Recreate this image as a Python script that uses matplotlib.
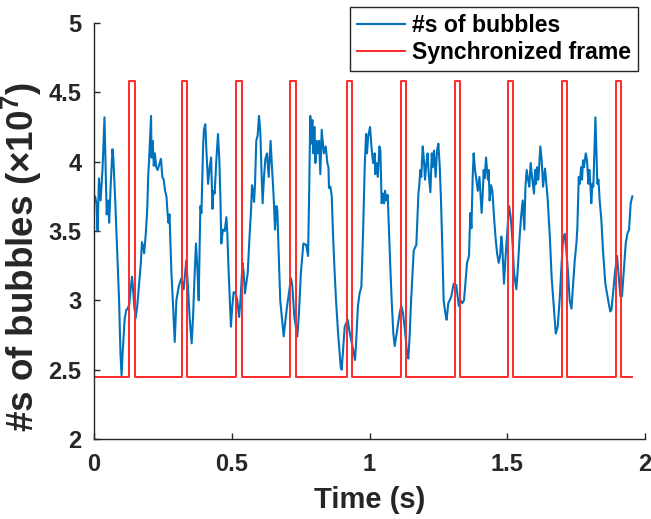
import matplotlib
matplotlib.use("Agg")
import matplotlib.pyplot as plt
import numpy as np

# ---------------- data ----------------
seg_a_t = [0.000, 0.004, 0.009, 0.013, 0.018, 0.024, 0.031, 0.038, 0.046, 0.051,
           0.055, 0.061, 0.067, 0.070, 0.077, 0.084, 0.091, 0.096, 0.100, 0.104,
           0.111, 0.117, 0.122, 0.128, 0.134, 0.138, 0.141, 0.146, 0.151, 0.157,
           0.163, 0.170, 0.174, 0.178, 0.182, 0.188, 0.193, 0.197, 0.200, 0.207,
           0.209, 0.213, 0.217, 0.221, 0.226, 0.231, 0.243, 0.248, 0.253, 0.258,
           0.263, 0.267, 0.270, 0.274]
seg_a_v = [3.70, 3.75, 3.70, 3.50, 3.88, 3.72, 3.95, 4.32, 3.62, 3.72,
           3.56, 3.85, 4.09, 4.03, 3.72, 3.36, 3.00, 2.62, 2.46, 2.62,
           2.86, 2.93, 2.94, 2.97, 3.10, 3.17, 3.10, 2.96, 2.87, 2.96,
           3.10, 3.27, 3.42, 3.39, 3.34, 3.48, 3.65, 3.91, 4.01, 4.33,
           4.03, 4.15, 3.97, 4.06, 3.96, 3.94, 4.02, 3.89, 3.87, 3.79,
           3.75, 3.63, 3.56, 3.62]

seg_b_t = [0.281, 0.287, 0.293, 0.299, 0.3075, 0.317, 0.3255, 0.335, 0.341, 0.347,
           0.3545, 0.3595, 0.3655, 0.370, 0.375, 0.380, 0.384, 0.386, 0.390, 0.396,
           0.399, 0.404, 0.408, 0.414, 0.420, 0.425, 0.430, 0.433, 0.438, 0.444,
           0.450, 0.455, 0.459, 0.462, 0.468, 0.4745, 0.4805, 0.484, 0.488, 0.493,
           0.497, 0.502, 0.507, 0.514, 0.520, 0.5265, 0.531, 0.539, 0.543, 0.548]
seg_b_v = [3.20, 2.96, 2.70, 3.00, 3.10, 3.16, 3.08, 3.29, 3.10, 2.88,
           2.69, 2.88, 3.20, 3.41, 3.24, 3.00, 3.44, 3.68, 3.63, 4.11,
           4.23, 4.27, 4.08, 3.84, 3.96, 4.03, 3.66, 3.79, 3.77, 4.01,
           4.20, 4.01, 3.72, 3.41, 3.51, 3.50, 3.60, 3.48, 3.24, 3.00,
           2.81, 2.96, 3.06, 3.05, 3.00, 2.88, 2.98, 3.27, 3.20, 3.05]

seg_c_t = [0.558, 0.564, 0.570, 0.5735, 0.577, 0.581, 0.5845, 0.589, 0.594, 0.599,
           0.604, 0.6075, 0.612, 0.617, 0.622, 0.628, 0.634, 0.641, 0.646, 0.652,
           0.657, 0.662, 0.6655, 0.670, 0.676, 0.6885, 0.695, 0.701, 0.715, 0.720,
           0.727, 0.738, 0.744, 0.751, 0.760, 0.770, 0.777, 0.7805, 0.785, 0.789,
           0.7925, 0.796, 0.800, 0.8035, 0.808, 0.812, 0.817, 0.8215, 0.8265, 0.834]
seg_c_v = [3.20, 3.44, 3.65, 3.83, 3.79, 3.71, 3.84, 4.15, 4.19, 4.33,
           4.20, 3.96, 3.70, 3.89, 4.02, 4.06, 3.89, 4.15, 3.96, 3.75,
           3.51, 3.68, 3.65, 3.36, 3.00, 2.74, 2.86, 2.96, 3.16, 3.10,
           2.88, 2.74, 2.91, 3.20, 3.41, 3.40, 3.32, 3.72, 4.33, 4.13,
           4.30, 4.06, 4.25, 3.99, 4.15, 4.06, 4.15, 3.91, 4.23, 4.06]

seg_d_t = [0.841, 0.847, 0.851, 0.853, 0.858, 0.863, 0.8675, 0.8725, 0.8785, 0.886,
           0.8955, 0.899, 0.904, 0.910, 0.921, 0.926, 0.938, 0.9475, 0.952, 0.958,
           0.964, 0.9705, 0.9765, 0.9825, 0.9875, 0.991, 0.995, 1.002, 1.007, 1.013,
           1.019, 1.021, 1.025, 1.030, 1.036, 1.0395, 1.044, 1.049, 1.053, 1.0565,
           1.061, 1.066, 1.071, 1.0755, 1.0805, 1.0865, 1.0915, 1.0985, 1.1095, 1.1155,
           1.1215]
seg_d_v = [4.11, 3.99, 3.96, 3.81, 3.82, 3.75, 3.48, 3.24, 3.00, 2.76,
           2.52, 2.50, 2.64, 2.81, 2.86, 2.79, 2.67, 2.57, 2.72, 2.96,
           3.05, 3.10, 3.48, 3.96, 4.20, 4.06, 4.18, 4.25, 4.11, 3.99,
           4.06, 3.91, 3.99, 3.89, 4.11, 4.08, 3.70, 3.77, 3.70, 3.79,
           3.72, 3.76, 3.48, 3.24, 3.00, 2.76, 2.67, 2.76, 2.91, 2.96,
           2.91]

seg_e_t = [1.130, 1.136, 1.141, 1.146, 1.151, 1.1605, 1.170, 1.1775, 1.181, 1.1845,
           1.188, 1.193, 1.197, 1.2015, 1.2065, 1.211, 1.215, 1.221, 1.226, 1.229,
           1.234, 1.240, 1.245, 1.250, 1.255, 1.2595, 1.2645, 1.269, 1.275, 1.280,
           1.286, 1.291, 1.297, 1.3055, 1.315, 1.324, 1.330, 1.337, 1.343, 1.354,
           1.361, 1.366, 1.370, 1.3745, 1.378, 1.383, 1.388, 1.393, 1.399]
seg_e_v = [2.76, 2.62, 2.58, 2.76, 3.00, 3.36, 3.40, 3.77, 3.84, 3.94,
           3.89, 4.11, 4.03, 3.87, 3.99, 4.06, 3.91, 3.78, 4.06, 3.96,
           4.08, 3.89, 4.08, 4.13, 3.96, 3.72, 3.36, 3.00, 2.91, 2.86,
           2.98, 3.00, 3.03, 3.12, 3.11, 2.96, 3.00, 2.98, 3.00, 3.27,
           3.32, 3.63, 3.52, 3.89, 4.06, 3.94, 3.87, 3.79, 3.89]

seg_f_t = [1.407, 1.411, 1.4145, 1.418, 1.423, 1.4265, 1.430, 1.4325, 1.436, 1.441,
           1.446, 1.452, 1.458, 1.463, 1.469, 1.474, 1.4785, 1.482, 1.488, 1.494,
           1.5065, 1.5125, 1.5185, 1.5245, 1.533, 1.538, 1.545, 1.550, 1.556, 1.562,
           1.566, 1.5705, 1.5755, 1.580, 1.585, 1.591, 1.597, 1.601, 1.6045, 1.608,
           1.613, 1.620, 1.625, 1.630, 1.637, 1.642, 1.647, 1.655, 1.661, 1.6685,
           1.676, 1.683]
seg_f_v = [3.63, 3.77, 3.94, 3.88, 4.03, 3.94, 3.87, 3.94, 3.72, 3.83,
           3.79, 3.60, 3.44, 3.34, 3.27, 3.32, 3.46, 3.39, 3.12, 3.32,
           3.68, 3.60, 3.44, 3.20, 3.08, 3.22, 3.46, 3.60, 3.72, 3.51,
           3.82, 3.94, 3.87, 3.82, 3.99, 3.87, 3.77, 3.94, 3.84, 3.96,
           3.87, 4.11, 4.01, 3.82, 3.95, 3.84, 3.72, 3.44, 3.17, 2.96,
           2.76, 2.81]

seg_g_t = [1.690, 1.6965, 1.7025, 1.7085, 1.7145, 1.7205, 1.7265, 1.733, 1.739, 1.745,
           1.751, 1.7545, 1.7595, 1.763, 1.768, 1.7715, 1.775, 1.7785, 1.785, 1.7895,
           1.7945, 1.798, 1.8015, 1.805, 1.809, 1.8125, 1.820, 1.8235, 1.827, 1.831,
           1.8355, 1.8415, 1.8475, 1.856, 1.862, 1.868, 1.874, 1.878, 1.884, 1.891,
           1.8985, 1.9045, 1.9105, 1.9165, 1.924, 1.930, 1.936, 1.942, 1.948, 1.954]
seg_g_v = [3.00, 3.24, 3.44, 3.48, 3.36, 3.20, 3.00, 2.94, 3.12, 3.29,
           3.41, 3.53, 3.89, 3.84, 3.96, 3.87, 4.01, 3.96, 4.06, 4.01,
           3.84, 3.94, 3.84, 3.70, 3.84, 3.82, 4.32, 4.08, 3.84, 3.87,
           3.72, 3.58, 3.36, 3.12, 3.05, 2.98, 2.92, 2.93, 3.05, 3.20,
           3.32, 3.17, 3.03, 3.03, 3.24, 3.41, 3.48, 3.51, 3.70, 3.75]

# synchronized frame pulses (s) and levels (x1e7)
pulse_on = [0.128, 0.3205, 0.515, 0.712, 0.918, 1.1155, 1.309, 1.504, 1.699, 1.895]
pulse_off = [0.147, 0.3387, 0.536, 0.732, 0.937, 1.1325, 1.328, 1.521, 1.716, 1.913]
sync_low = 2.45
sync_high = 4.58
sync_start = 0.0
sync_end = 1.954

x_ticks = [0, 0.5, 1, 1.5, 2]
x_tick_labels = ["0", "0.5", "1", "1.5", "2"]
y_ticks = [2, 2.5, 3, 3.5, 4, 4.5, 5]
y_tick_labels = ["2", "2.5", "3", "3.5", "4", "4.5", "5"]

# ---------------- build series ----------------
seg_t = [seg_a_t, seg_b_t, seg_c_t, seg_d_t, seg_e_t, seg_f_t, seg_g_t]
seg_v = [seg_a_v, seg_b_v, seg_c_v, seg_d_v, seg_e_v, seg_f_v, seg_g_v]
for a, b in zip(seg_t, seg_v):
    assert len(a) == len(b), (len(a), len(b))
time_s = np.concatenate(seg_t)
bubbles = np.concatenate(seg_v)

sync_t = [sync_start]
sync_v = [sync_low]
for on, off in zip(pulse_on, pulse_off):
    sync_t += [on, on, off, off]
    sync_v += [sync_low, sync_high, sync_high, sync_low]
sync_t.append(sync_end)
sync_v.append(sync_low)

# ---------------- style ----------------
plt.rcParams["font.family"] = ["Liberation Sans", "DejaVu Sans"]
plt.rcParams["font.weight"] = "bold"
plt.rcParams["mathtext.fontset"] = "custom"
plt.rcParams["mathtext.rm"] = "Liberation Sans:bold"
plt.rcParams["mathtext.bf"] = "Liberation Sans:bold"

fig = plt.figure(figsize=(6.51, 5.19), dpi=100)
ax = fig.add_axes([0.1444, 0.1541, 0.8464, 0.8016])

ax.plot(time_s, bubbles, color="#0072BD", lw=1.5, label="#s of bubbles")
ax.plot(sync_t, sync_v, color="#FF2A2A", lw=1.4, label="Synchronized frame")

ax.set_xlim(0, 2)
ax.set_ylim(2, 5)
ax.set_xticks(x_ticks)
ax.set_xticklabels(x_tick_labels)
ax.set_yticks(y_ticks)
ax.set_yticklabels(y_tick_labels)
for s in ("top", "right"):
    ax.spines[s].set_visible(False)
for s in ("left", "bottom"):
    ax.spines[s].set_color("#262626")
    ax.spines[s].set_linewidth(1.0)
ax.tick_params(direction="in", length=4, width=1, color="#262626",
               labelsize=17, labelcolor="#262626")
ax.tick_params(axis="x", pad=10)
ax.tick_params(axis="y", pad=9)

ax.set_xlabel("Time (s)", fontsize=21, fontweight="bold", color="#262626", labelpad=7)
ax.set_ylabel("#s of bubbles (×10$^{7}$)", fontsize=26.5, fontweight="bold",
              color="#262626")
ax.yaxis.set_label_coords(-0.090, 0.4375)

leg = ax.legend(loc="upper right", bbox_to_anchor=(0.980, 0.987),
                bbox_transform=fig.transFigure, fontsize=16.6, frameon=True,
                fancybox=False, edgecolor="#262626", framealpha=1,
                handlelength=2.1, handletextpad=0.3, borderpad=0.3,
                labelspacing=0.2, borderaxespad=0)
leg.get_frame().set_linewidth(1.0)

fig.savefig("out.png", dpi=100)
